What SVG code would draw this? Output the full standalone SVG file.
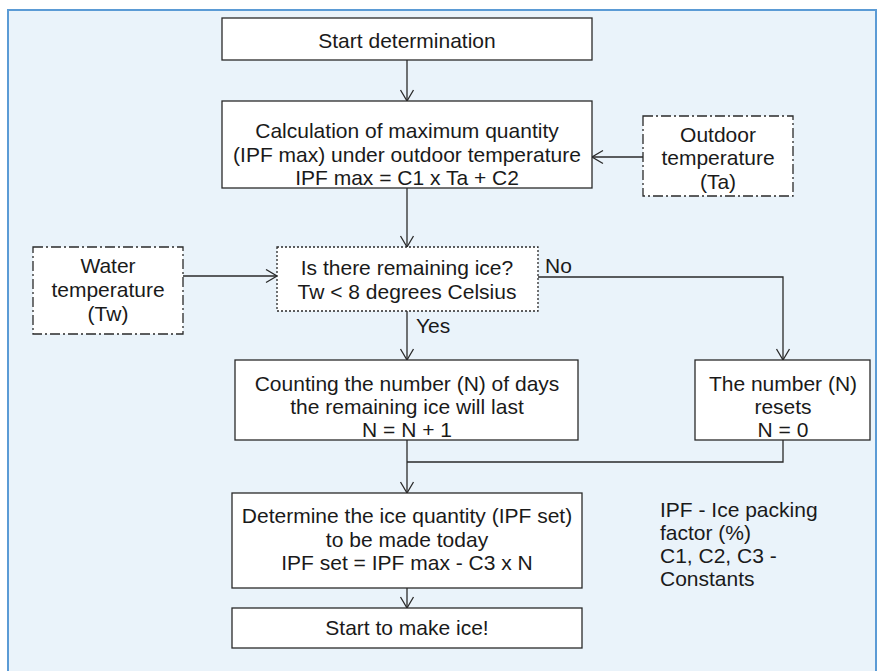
<svg xmlns="http://www.w3.org/2000/svg" width="882" height="671" viewBox="0 0 882 671">
<style>
text{font-family:"Liberation Sans",Arial,sans-serif;font-size:21px;fill:#1a1a1a}
.c{text-anchor:middle}
.box{fill:#ffffff;stroke:#2a2a2a;stroke-width:1.3}
.dd{fill:#ffffff;stroke:#2a2a2a;stroke-width:1.3;stroke-dasharray:10 3 2 3}
.dot{fill:#ffffff;stroke:#2a2a2a;stroke-width:1.3;stroke-dasharray:2 2}
.ln{fill:none;stroke:#2a2a2a;stroke-width:1.3}
</style>
<defs>
<marker id="ah" markerWidth="14" markerHeight="16" refX="12" refY="7.5" orient="auto" markerUnits="userSpaceOnUse">
<path d="M1,1 L12,7.5 L1,14" fill="none" stroke="#2a2a2a" stroke-width="1.3"/>
</marker>
</defs>
<rect x="0" y="0" width="882" height="671" fill="#ffffff"/>
<rect x="8" y="10" width="868" height="700" fill="#eaf3fa" stroke="#5b9bd5" stroke-width="2"/>
<g id="connectors">
<path class="ln" d="M407,60 V101" marker-end="url(#ah)"/>
<path class="ln" d="M643,157 H592" marker-end="url(#ah)"/>
<path class="ln" d="M407,188 V247" marker-end="url(#ah)"/>
<path class="ln" d="M183,276 H277" marker-end="url(#ah)"/>
<path class="ln" d="M538,277 H783 V360" marker-end="url(#ah)"/>
<path class="ln" d="M407,311 V360" marker-end="url(#ah)"/>
<path class="ln" d="M407,440 V493" marker-end="url(#ah)"/>
<path class="ln" d="M783,440 V462 H407"/>
<path class="ln" d="M407,588 V608" marker-end="url(#ah)"/>
<text x="545" y="273">No</text>
<text x="416" y="333">Yes</text>
</g>
<g id="start">
<rect class="box" x="222" y="18" width="370" height="42"/>
<text class="c" x="407" y="48">Start determination</text>
</g>
<g id="calc">
<rect class="box" x="222" y="101" width="370" height="87"/>
<text class="c" x="407" y="138">Calculation of maximum quantity</text>
<text class="c" x="407" y="162">(IPF max) under outdoor temperature</text>
<text class="c" x="407" y="185">IPF max = C1 x Ta + C2</text>
</g>
<g id="outdoor">
<rect class="dd" x="643" y="116" width="150" height="80"/>
<text class="c" x="718" y="142">Outdoor</text>
<text class="c" x="718" y="165">temperature</text>
<text class="c" x="718" y="189">(Ta)</text>
</g>
<g id="water">
<rect class="dd" x="33" y="247" width="150" height="87"/>
<text class="c" x="108" y="273">Water</text>
<text class="c" x="108" y="297">temperature</text>
<text class="c" x="108" y="321">(Tw)</text>
</g>
<g id="decision">
<rect class="dot" x="277" y="247" width="261" height="64"/>
<text class="c" x="407" y="275">Is there remaining ice?</text>
<text class="c" x="407" y="299">Tw &lt; 8 degrees Celsius</text>
</g>
<g id="counting">
<rect class="box" x="235" y="360" width="343" height="80"/>
<text class="c" x="407" y="391">Counting the number (N) of days</text>
<text class="c" x="407" y="414">the remaining ice will last</text>
<text class="c" x="407" y="437">N = N + 1</text>
</g>
<g id="reset">
<rect class="box" x="695" y="360" width="175" height="80"/>
<text class="c" x="783" y="391">The number (N)</text>
<text class="c" x="783" y="414">resets</text>
<text class="c" x="783" y="437">N = 0</text>
</g>
<g id="determine">
<rect class="box" x="232" y="493" width="350" height="95"/>
<text class="c" x="407" y="523">Determine the ice quantity (IPF set)</text>
<text class="c" x="407" y="547">to be made today</text>
<text class="c" x="407" y="570">IPF set = IPF max - C3 x N</text>
</g>
<g id="make">
<rect class="box" x="232" y="608" width="350" height="40"/>
<text class="c" x="407" y="635">Start to make ice!</text>
</g>
<g id="legend">
<text x="660" y="517">IPF - Ice packing</text>
<text x="660" y="540">factor (%)</text>
<text x="660" y="563">C1, C2, C3 -</text>
<text x="660" y="586">Constants</text>
</g>
</svg>
